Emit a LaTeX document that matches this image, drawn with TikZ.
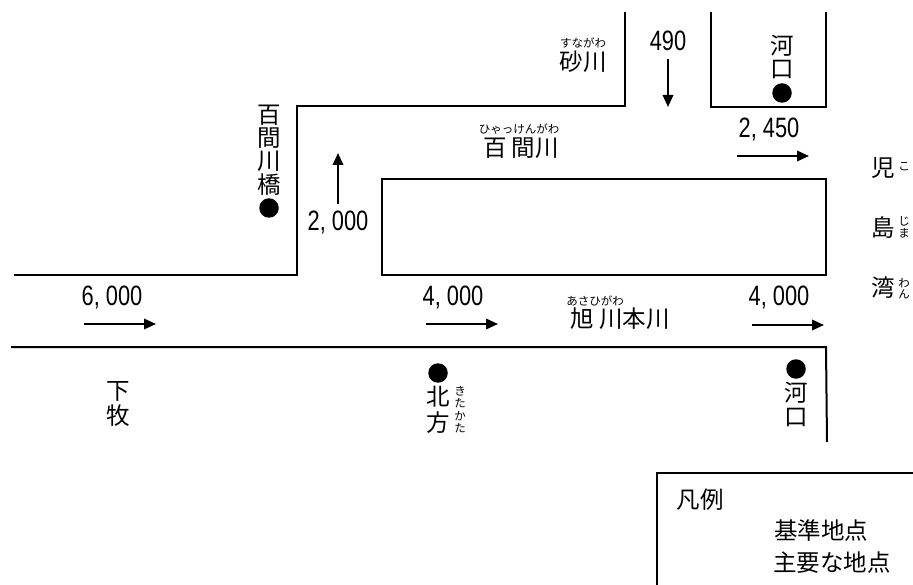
\documentclass[tikz,border=0pt]{standalone}
\usepackage{fontspec}
\setmainfont{Noto Sans CJK JP}
\newfontfamily\numfont[FakeStretch=0.78]{Liberation Sans}
\usetikzlibrary{arrows.meta}
\tikzset{
  bank/.style={draw=black,line width=2pt,line join=miter},
  flow/.style={draw=black,line width=2pt,-{Triangle[length=12pt,width=10.5pt]}},
  name text/.style={inner sep=0pt,font=\fontsize{23.5}{24}\selectfont,align=center},
  ruby text/.style={inner sep=0pt,font=\fontsize{11.5}{13}\selectfont,align=center},
  num text/.style={inner sep=0pt,font=\numfont\fontsize{28}{28}\selectfont},
  site/.style={circle,fill=black,inner sep=0pt,minimum size=19.5pt}
}
\begin{document}
\begin{tikzpicture}[x=1pt,y=-1pt]
\useasboundingbox (0,0) rectangle (913,585);
% river banks
\draw[bank] (14,275) -- (297,275) -- (297,106) -- (625,106) -- (625,12);
\draw[bank] (711,12) -- (711,107) -- (826,107) -- (826,12);
\draw[bank] (382,179) rectangle (826,275);
\draw[bank] (11,347) -- (826,347) -- (827,442);
% legend frame
\draw[bank] (913,473) -- (657,473) -- (657,585);
% flow arrows
\coordinate (a1s) at (84,324);  \coordinate (a1e) at (156,324);
\coordinate (a2s) at (426,324); \coordinate (a2e) at (498,324);
\coordinate (a3s) at (752,325); \coordinate (a3e) at (824,325);
\coordinate (a4s) at (737,156); \coordinate (a4e) at (809,156);
\coordinate (a5s) at (338,204); \coordinate (a5e) at (338,153);
\coordinate (a6s) at (668,59);  \coordinate (a6e) at (668,107);
\draw[flow] (a1s) -- (a1e);
\draw[flow] (a2s) -- (a2e);
\draw[flow] (a3s) -- (a3e);
\draw[flow] (a4s) -- (a4e);
\draw[flow] (a5s) -- (a5e);
\draw[flow] (a6s) -- (a6e);
% flows
\node[num text] (n1) at (112,298) {6, 000};
\node[num text] (n2) at (453,298) {4, 000};
\node[num text] (n3) at (779,298) {4, 000};
\node[num text] (n4) at (769,130) {2, 450};
\node[num text] (n5) at (338,223) {2, 000};
\node[num text] (n6) at (668,41) {490};
% sites
\node[site] (s1) at (269,208) {};
\node[site] (s2) at (782,93) {};
\node[site] (s3) at (438,373) {};
\node[site] (s4) at (796,369) {};
% rivers
\node[name text] (r1) at (583,62) {砂川};
\node[ruby text] (r1r) at (583,43) {すながわ};
\node[name text] (r2) at (521,148) {百 間川};
\node[ruby text] (r2r) at (519,129) {ひゃっけんがわ};
\node[name text] (r3) at (620,319) {旭 川本川};
\node[ruby text] (r3r) at (595,301) {あさひがわ};
% vertical place names
\node[name text] (p1a) at (269,115) {百};
\node[name text] (p1b) at (269,138) {間};
\node[name text] (p1c) at (269,161) {川};
\node[name text] (p1d) at (269,185) {橋};
\node[name text] (p2a) at (782,46) {河};
\node[name text] (p2b) at (782,70) {口};
\node[name text] (p3a) at (118,391) {下};
\node[name text] (p3b) at (118,416) {牧};
\node[name text] (p4a) at (438,397) {北};
\node[name text] (p4b) at (438,423) {方};
\node[ruby text] (p4r1) at (460,391) {き};
\node[ruby text] (p4r2) at (460,403) {た};
\node[ruby text] (p4r3) at (460,416) {か};
\node[ruby text] (p4r4) at (460,428) {た};
\node[name text] (p5a) at (796,393) {河};
\node[name text] (p5b) at (796,418) {口};
% bay
\node[name text] (b1) at (883,168) {児};
\node[name text] (b2) at (883,228) {島};
\node[name text] (b3) at (883,288) {湾};
\node[ruby text] (b1r) at (904,167) {こ};
\node[ruby text] (b2r1) at (904,221) {じ};
\node[ruby text] (b2r2) at (904,233) {ま};
\node[ruby text] (b3r1) at (904,283) {わ};
\node[ruby text] (b3r2) at (904,294) {ん};
% legend
\node[name text] (l1) at (700,500) {凡例};
\node[name text] (l2) at (821,531) {基準地点};
\node[name text] (l3) at (832,563) {主要な地点};
\end{tikzpicture}
\end{document}
